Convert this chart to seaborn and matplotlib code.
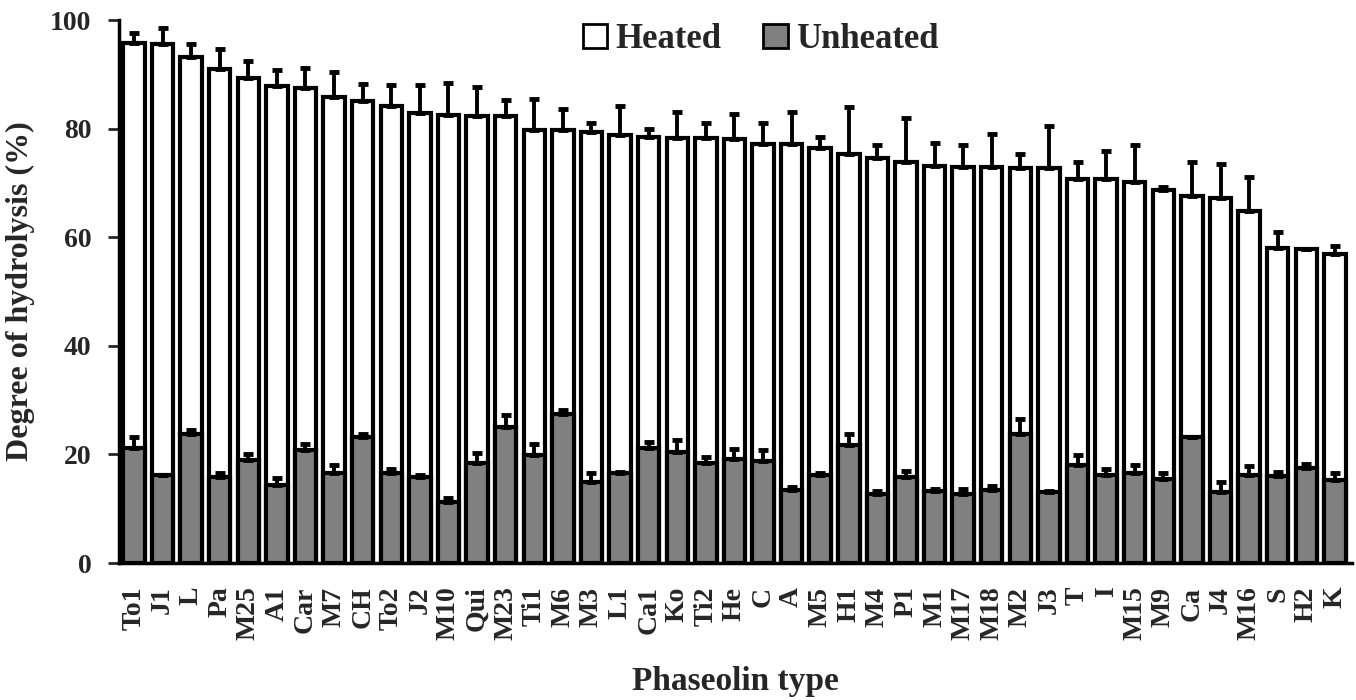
import numpy as np
import pandas as pd
import seaborn as sns
import matplotlib.pyplot as plt
from matplotlib.patches import Patch

types = ['To1', 'J1', 'L', 'Pa', 'M25', 'A1', 'Car', 'M7', 'CH', 'To2', 'J2', 'M10',
         'Qui', 'M23', 'Ti1', 'M6', 'M3', 'L1', 'Ca1', 'Ko', 'Ti2', 'He', 'C', 'A',
         'M5', 'H1', 'M4', 'P1', 'M1', 'M17', 'M18', 'M2', 'J3', 'T', 'I', 'M15',
         'M9', 'Ca', 'J4', 'M16', 'S', 'H2', 'K']
heated = [95.8, 95.5, 93.2, 91.0, 89.4, 87.8, 87.4, 85.8, 85.0, 84.2, 82.9, 82.6,
          82.4, 82.4, 79.8, 79.8, 79.4, 78.9, 78.5, 78.2, 78.2, 78.0, 77.2, 77.2,
          76.5, 75.4, 74.5, 73.8, 73.2, 73.0, 73.0, 72.8, 72.8, 70.8, 70.8, 70.2,
          68.7, 67.5, 67.2, 64.8, 58.0, 57.8, 57.0]
heated_err = [1.8, 3.1, 2.4, 3.7, 3.0, 3.0, 3.8, 4.7, 3.2, 3.8, 5.1, 5.8,
              5.2, 2.9, 5.7, 3.9, 1.6, 5.3, 1.5, 4.8, 2.8, 4.7, 3.8, 5.8,
              1.9, 8.6, 2.5, 8.2, 4.1, 4.0, 6.0, 2.6, 7.7, 3.0, 5.1, 6.8,
              0.5, 6.3, 6.3, 6.2, 3.0, 0.0, 1.3]
unheated = [21.2, 16.2, 23.8, 15.8, 18.9, 14.3, 20.8, 16.5, 23.2, 16.5, 15.8, 11.2,
            18.5, 25.0, 19.8, 27.5, 15.0, 16.5, 21.2, 20.5, 18.5, 19.2, 18.8, 13.5,
            16.2, 21.8, 12.8, 15.8, 13.2, 12.8, 13.5, 23.7, 13.0, 18.0, 16.2, 16.5,
            15.5, 23.2, 13.0, 16.2, 16.0, 17.5, 15.2]
unheated_err = [2.0, 0.0, 0.7, 0.7, 1.1, 1.3, 1.2, 1.5, 0.5, 0.9, 0.4, 0.8,
                1.8, 2.2, 2.2, 0.7, 1.5, 0.3, 1.1, 2.1, 1.0, 1.8, 2.0, 0.5,
                0.3, 2.0, 0.5, 1.2, 0.5, 0.9, 0.7, 2.8, 0.3, 1.8, 1.1, 1.5,
                1.0, 0.0, 2.0, 1.6, 0.8, 0.7, 1.3]

df = pd.DataFrame({'type': types, 'heated': heated, 'unheated': unheated})

sns.set_style('white')
plt.rcParams['font.family'] = ['Liberation Serif', 'DejaVu Serif']
plt.rcParams['font.weight'] = 'bold'

fig = plt.figure(figsize=(13.56, 7), dpi=100)
ax = fig.add_axes([0.0878, 0.1957, 0.9093, 0.7757])

# heated bars drawn full height, unheated bars overlaid in front
sns.barplot(data=df, x='type', y='heated', color='white', edgecolor='black',
            linewidth=3, width=0.75, saturation=1, ax=ax)
n = len(types)
ax.errorbar(np.arange(n), heated, yerr=[np.zeros(n), heated_err], fmt='none',
            ecolor='black', elinewidth=2.8, capsize=3.8, capthick=3.5, zorder=1)
sns.barplot(data=df, x='type', y='unheated', color='#808080', edgecolor='black',
            linewidth=3, width=0.75, saturation=1, ax=ax)
ax.errorbar(np.arange(n), unheated, yerr=[np.zeros(n), unheated_err], fmt='none',
            ecolor='black', elinewidth=2.8, capsize=3.8, capthick=3.5, zorder=3)

ax.set_xlim(-0.52, n - 0.4)
ax.set_ylim(0, 100)
ax.set_yticks([0, 20, 40, 60, 80, 100])
ax.tick_params(axis='y', direction='out', length=8, width=2, pad=12,
               labelsize=20, left=True)
ax.tick_params(axis='x', length=0, pad=17, labelsize=20)
plt.setp(ax.get_xticklabels(), rotation=90, fontweight='bold')
plt.setp(ax.get_yticklabels(), fontweight='bold')

for side in ['top', 'right']:
    ax.spines[side].set_visible(False)
for side in ['left', 'bottom']:
    ax.spines[side].set_color('black')
    ax.spines[side].set_linewidth(2.5)

ax.set_xlabel('Phaseolin type', fontsize=24, fontweight='bold')
ax.set_ylabel('Degree of hydrolysis (%)', fontsize=23, fontweight='bold')
ax.xaxis.set_label_coords(0.5, -0.19)
ax.yaxis.set_label_coords(-0.068, 0.5)

handles = [Patch(facecolor='white', edgecolor='black', linewidth=2, label='Heated'),
           Patch(facecolor='#808080', edgecolor='black', linewidth=2, label='Unheated')]
fig.legend(handles=handles, loc='center', bbox_to_anchor=(0.561, 0.943), ncol=2,
           frameon=False, handlelength=0.7, handleheight=0.7,
           handletextpad=0.25, columnspacing=1.2, prop={'weight': 'bold', 'size': 25})

fig.savefig('out.png', dpi=100)
